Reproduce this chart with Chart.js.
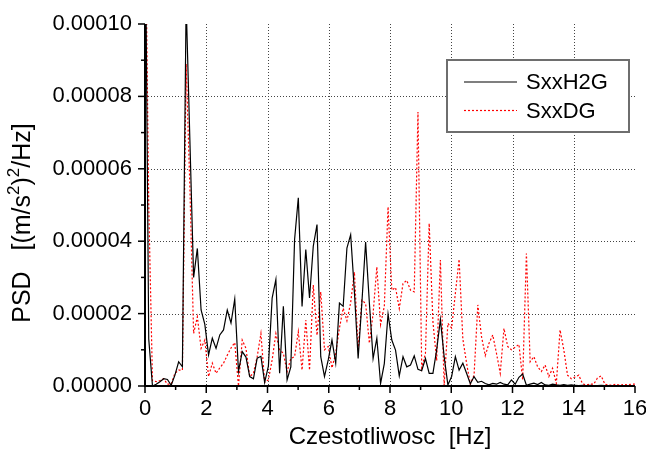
<!DOCTYPE html>
<html>
<head>
<meta charset="utf-8">
<script src="https://cdn.jsdelivr.net/npm/chart.js"></script>
<style>
html, body { margin: 0; padding: 0; background: #fff; }
#wrap { width: 646px; height: 450px; position: relative; }
</style>
</head>
<body>
<div id="wrap"><canvas id="psd"></canvas></div>
<script>
// PSD values in units of 1e-5 (m/s^2)^2/Hz, one per frequency bin
const dF = 0.1221; // Hz per bin

const sxxH2G = [
  14, 1.3, 0, 0.05, 0.12, 0.2, 0.18, 0.02, 0.3, 0.67,
  0.53, 10.6, 6.8, 3.0, 3.8, 2.1, 1.7, 0.86, 1.32, 1.04,
  1.41, 1.55, 2.1, 1.74, 2.4, 0.4, 0.95, 0.8, 0.26, 0.2,
  0.77, 0.82, 0.1, 0.55, 2.43, 2.94, 0.35, 2.2, 0.17, 0.53,
  4.04, 5.2, 2.2, 3.77, 2.43, 3.86, 4.46, 0.81, 0.26, 0.72,
  1.27, 0.63, 2.29, 2.2, 3.81, 4.18, 2.6, 0.76, 2.3, 3.98,
  2.3, 0.76, 1.32, 0.07, 0.62, 1.99, 1.27, 0.99, 0.28, 0.81,
  0.53, 0.58, 0.83, 0.46, 0.42, 0.76, 0.35, 0.35, 1.0, 1.84,
  0.81, 0.03, 0.26, 0.81, 0.44, 0.63, 0.35, 0.06, 0.26, 0.1,
  0.13, 0.07, 0.03, 0.07, 0.05, 0.1, 0.05, 0.03, 0.17, 0.05,
  0.24, 0.33, 0.02, 0.05, 0.08, 0.04, 0.1, 0.03, 0.02, 0.05,
  0.03, 0.02, 0.04, 0.02, 0.03, 0.02, 0.01, 0.02, 0.01, 0.02,
  0.01, 0.01, 0.02, 0.01, 0.01, 0.01, 0.01, 0.01, 0.01, 0.01,
  0.01, 0.01
];

const sxxDG = [
  14, 5, 0.15, 0.12, 0.15, 0.2, 0.05, 0.05, 0.35, 0.44,
  0.44, 8.9, 5.5, 1.45, 1.91, 1.04, 1.27, 0.26, 0.63, 0.35,
  0.5, 0.63, 0.85, 1.05, 1.2, 0, 1.27, 1.04, 0.26, 0.35,
  0.81, 1.45, 0.1, 0.17, 0.72, 1.45, 1.0, 0.9, 0.4, 0.76,
  0.81, 1.5, 0.44, 1.82, 0.44, 2.79, 1.4, 2.6, 1.0, 1.09,
  0.5, 0.9, 1.6, 2.15, 1.8, 2.3, 3.15, 1.0, 2.37, 2.28,
  1.18, 2.0, 3.29, 1.7, 2.2, 4.95, 2.65, 2.72, 2.14, 2.83,
  2.92, 2.65, 2.6, 7.57, 0.5, 0.9, 4.49, 1.77, 0.7, 3.48,
  0.02, 1.73, 1.6, 2.56, 3.5, 1.3, 0.63, 0.05, 0.3, 2.24,
  1.36, 0.84, 1.18, 1.41, 0.9, 0.35, 1.59, 1.09, 1.0, 1.07,
  1.15, 0.17, 3.66, 0.67, 0.81, 0.53, 0.4, 0.58, 0.26, 0.49,
  0.07, 1.55, 1.0, 0.3, 0.2, 0.25, 0.3, 0.06, 0.03, 0.05,
  0.05, 0.22, 0.28, 0.05, 0.02, 0.03, 0.05, 0.02, 0.04, 0.03,
  0.05, 0.05
];

const seriesNames = ['SxxH2G', 'SxxDG'];
const xTicks = [0, 2, 4, 6, 8, 10, 12, 14, 16];
const xTickLabels = ['0', '2', '4', '6', '8', '10', '12', '14', '16'];
const yTicks = [0, 2, 4, 6, 8, 10];
const yTickLabels = ['0.00000', '0.00002', '0.00004', '0.00006', '0.00008', '0.00010'];
const xTitle = 'Czestotliwosc  [Hz]';

const FONT = "'Liberation Sans', Arial, sans-serif";
const FS = 22;   // tick labels, legend
const TFS = 24;  // axis titles

function pts(arr) {
  return arr.map((v, i) => ({x: +(i * dF).toFixed(4), y: v}));
}

const framePlugin = {
  id: 'frame',
  beforeDatasetsDraw(chart) {
    const {ctx, chartArea: a, scales: {x, y}} = chart;
    ctx.save();
    ctx.strokeStyle = '#444';
    ctx.lineWidth = 1;
    ctx.setLineDash([1, 2]);
    xTicks.forEach(v => {
      if (v === 0 || v === 16) return;
      const px = Math.round(x.getPixelForValue(v)) + 0.5;
      ctx.beginPath(); ctx.moveTo(px, a.top); ctx.lineTo(px, a.bottom); ctx.stroke();
    });
    yTicks.forEach(v => {
      if (v === 0 || v === 10) return;
      const py = Math.round(y.getPixelForValue(v)) + 0.5;
      ctx.beginPath(); ctx.moveTo(a.left, py); ctx.lineTo(a.right, py); ctx.stroke();
    });
    ctx.restore();
  },
  afterDatasetsDraw(chart) {
    const {ctx, chartArea: a, scales: {x, y}} = chart;
    ctx.save();
    // axes
    ctx.strokeStyle = '#000';
    ctx.lineWidth = 2;
    ctx.beginPath();
    ctx.moveTo(a.left, a.top); ctx.lineTo(a.left, a.bottom); ctx.lineTo(a.right, a.bottom);
    ctx.stroke();
    // ticks, major and minor, outward
    ctx.lineWidth = 1.5;
    for (let v = 0; v <= 16; v += 1) {
      const px = x.getPixelForValue(v);
      const len = v % 2 === 0 ? 7 : 4;
      ctx.beginPath(); ctx.moveTo(px, a.bottom); ctx.lineTo(px, a.bottom + len); ctx.stroke();
    }
    for (let v = 0; v <= 10; v += 1) {
      const py = y.getPixelForValue(v);
      const len = v % 2 === 0 ? 7 : 4;
      ctx.beginPath(); ctx.moveTo(a.left, py); ctx.lineTo(a.left - len, py); ctx.stroke();
    }

    // tick labels
    ctx.fillStyle = '#000';
    ctx.font = FS + 'px ' + FONT;
    ctx.textBaseline = 'middle';
    ctx.textAlign = 'center';
    xTicks.forEach((v, i) => ctx.fillText(xTickLabels[i], x.getPixelForValue(v), a.bottom + 23));
    ctx.textAlign = 'right';
    yTicks.forEach((v, i) => ctx.fillText(yTickLabels[i], a.left - 13, y.getPixelForValue(v)));

    // legend box
    const lx = a.right - 188, ly = a.top + 36, lw = 182, lh = 72;
    ctx.fillStyle = '#fff';
    ctx.fillRect(lx, ly, lw, lh);
    ctx.strokeStyle = '#6e6e6e';
    ctx.lineWidth = 2;
    ctx.strokeRect(lx, ly, lw, lh);
    chart.data.datasets.forEach((ds, i) => {
      const cy = ly + 22 + i * 28.5;
      ctx.strokeStyle = ds.borderColor;
      ctx.lineWidth = ds.borderWidth;
      ctx.setLineDash(ds.borderDash || []);
      ctx.beginPath(); ctx.moveTo(lx + 17, cy); ctx.lineTo(lx + 70, cy); ctx.stroke();
      ctx.setLineDash([]);
      ctx.fillStyle = '#000';
      ctx.font = FS + 'px ' + FONT;
      ctx.textBaseline = 'middle';
      ctx.textAlign = 'left';
      ctx.fillText(ds.label, lx + 79, cy + 1);
    });

    // x title
    ctx.fillStyle = '#000';
    ctx.font = TFS + 'px ' + FONT;
    ctx.textAlign = 'center';
    ctx.textBaseline = 'middle';
    ctx.fillText(xTitle, (a.left + a.right) / 2, 437);

    // y title with superscripts
    const parts = [
      {t: 'PSD   [(m/s', s: 25, up: 0},
      {t: '2', s: 17, up: 9},
      {t: ')', s: 25, up: 0},
      {t: '2', s: 17, up: 9},
      {t: '/Hz]', s: 25, up: 0}
    ];
    let total = 0;
    parts.forEach(p => { ctx.font = p.s + 'px ' + FONT; p.w = ctx.measureText(p.t).width; total += p.w; });
    ctx.translate(23, 223);
    ctx.rotate(-Math.PI / 2);
    ctx.textAlign = 'left';
    let cx = -total / 2;
    parts.forEach(p => {
      ctx.font = p.s + 'px ' + FONT;
      ctx.fillText(p.t, cx, -p.up);
      cx += p.w;
    });
    ctx.restore();
  }
};

new Chart(document.getElementById('psd'), {
  type: 'line',
  data: {
    datasets: [
      {
        label: seriesNames[0],
        data: pts(sxxH2G),
        borderColor: '#000000',
        borderWidth: 1.2,
        pointRadius: 0,
        tension: 0,
        fill: false
      },
      {
        label: seriesNames[1],
        data: pts(sxxDG),
        borderColor: '#ff0000',
        borderWidth: 1.2,
        borderDash: [2, 2],
        pointRadius: 0,
        tension: 0,
        fill: false
      }
    ]
  },
  options: {
    responsive: true,
    maintainAspectRatio: false,
    animation: false,
    devicePixelRatio: 1,
    layout: {padding: {top: 24, right: 11, left: 0, bottom: 0}},
    plugins: {legend: {display: false}, tooltip: {enabled: false}},
    scales: {
      x: {
        type: 'linear',
        min: 0,
        max: 16,
        afterFit(s) { s.height = 64; },
        grid: {display: false, drawTicks: false},
        border: {display: false},
        ticks: {display: false}
      },
      y: {
        type: 'linear',
        min: 0,
        max: 10,
        afterFit(s) { s.width = 145; },
        grid: {display: false, drawTicks: false},
        border: {display: false},
        ticks: {display: false}
      }
    }
  },
  plugins: [framePlugin]
});
</script>
</body>
</html>
